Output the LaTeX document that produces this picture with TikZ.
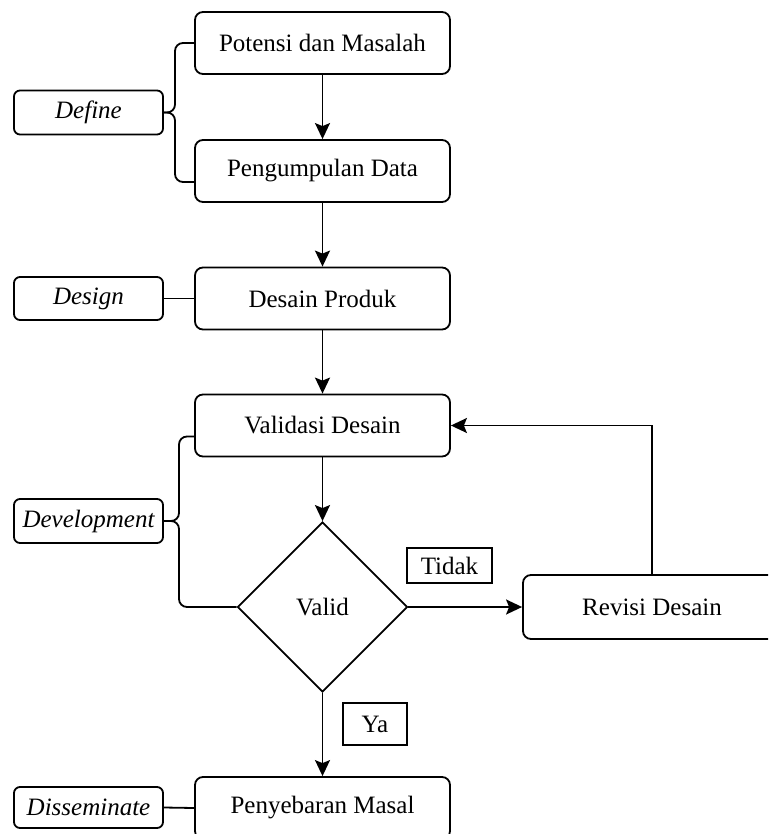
\documentclass[tikz,border=0pt]{standalone}
\usepackage{fontspec}
\setmainfont{Liberation Serif}
\usetikzlibrary{arrows.meta, shapes.geometric, calc}

\begin{document}
\begin{tikzpicture}[x=1pt, y=-1pt, line width=1.8pt,
    font=\fontsize{25}{30}\selectfont,
    box/.style={draw, rounded corners=8pt, minimum width=255pt, minimum height=62pt, inner sep=0pt},
    stage/.style={draw, rounded corners=6pt, minimum width=149pt, minimum height=44pt, inner sep=0pt, font=\fontsize{25}{30}\selectfont\itshape},
    tag/.style={draw, inner sep=0pt, minimum height=38pt},
    arr/.style={-{Stealth[length=16pt, width=15pt, inset=3pt]}}]
    \useasboundingbox (0,0) rectangle (768,834);
    \clip (0,0) rectangle (768,834);

    \node[box] (pot) at (322.5,43) {Potensi dan Masalah};
    \node[box] (pen) at (322.5,171) {Pengumpulan Data};
    \node[box] (des) at (322.5,298.5) {Desain Produk};
    \node[box] (val) at (322.5,425.5) {Validasi Desain};
    \node[draw, diamond, aspect=1, minimum width=170pt, minimum height=170pt, inner sep=0pt] (valid) at (322.5,607) {Valid};
    \node[box, minimum width=258pt, minimum height=64pt] (rev) at (652,607) {Revisi Desain};
    \node[box] (pny) at (322.5,808) {Penyebaran Masal};

    \node[stage] (def) at (88.5,112.5) {Define};
    \node[stage, minimum height=43pt] (dsg) at (88.5,298.5) {Design};
    \node[stage] (dev) at (88.5,521) {Development};
    \node[stage, minimum height=41pt] (dis) at (88.5,807.5) {Disseminate};

    \node[tag, minimum width=85pt, minimum height=35pt] (tidak) at (449.5,565.5) {Tidak};
    \node[tag, minimum width=64pt, minimum height=42pt] (ya) at (375,724) {Ya};

    % main flow
    \draw[arr] (pot) -- (pen);
    \draw[arr] (pen) -- (des);
    \draw[arr] (des) -- (val);
    \draw[arr] (val) -- (valid);
    \draw[arr] (valid.east) -- (rev.west);
    \draw[arr] (valid.south) -- (pny.north);
    \draw[arr] (rev.north) |- (val.east);

    % stage braces
    \coordinate (defbr) at (175,112.5);
    \coordinate (devbr) at (179,521);
    \draw[rounded corners=8pt] (pot.west) -| (defbr) -- (def.east);
    \draw[rounded corners=8pt] ($(pen.west)+(0,11)$) -| (defbr) -- (def.east);
    \draw[rounded corners=8pt] ($(val.west)+(0,11)$) -| (devbr) -- (dev.east);
    \draw[rounded corners=8pt] (valid.west) -| (devbr) -- (dev.east);
    \draw (dsg.east) -- (des.west);
    \draw (dis.east) -- (pny.west);
\end{tikzpicture}
\end{document}
